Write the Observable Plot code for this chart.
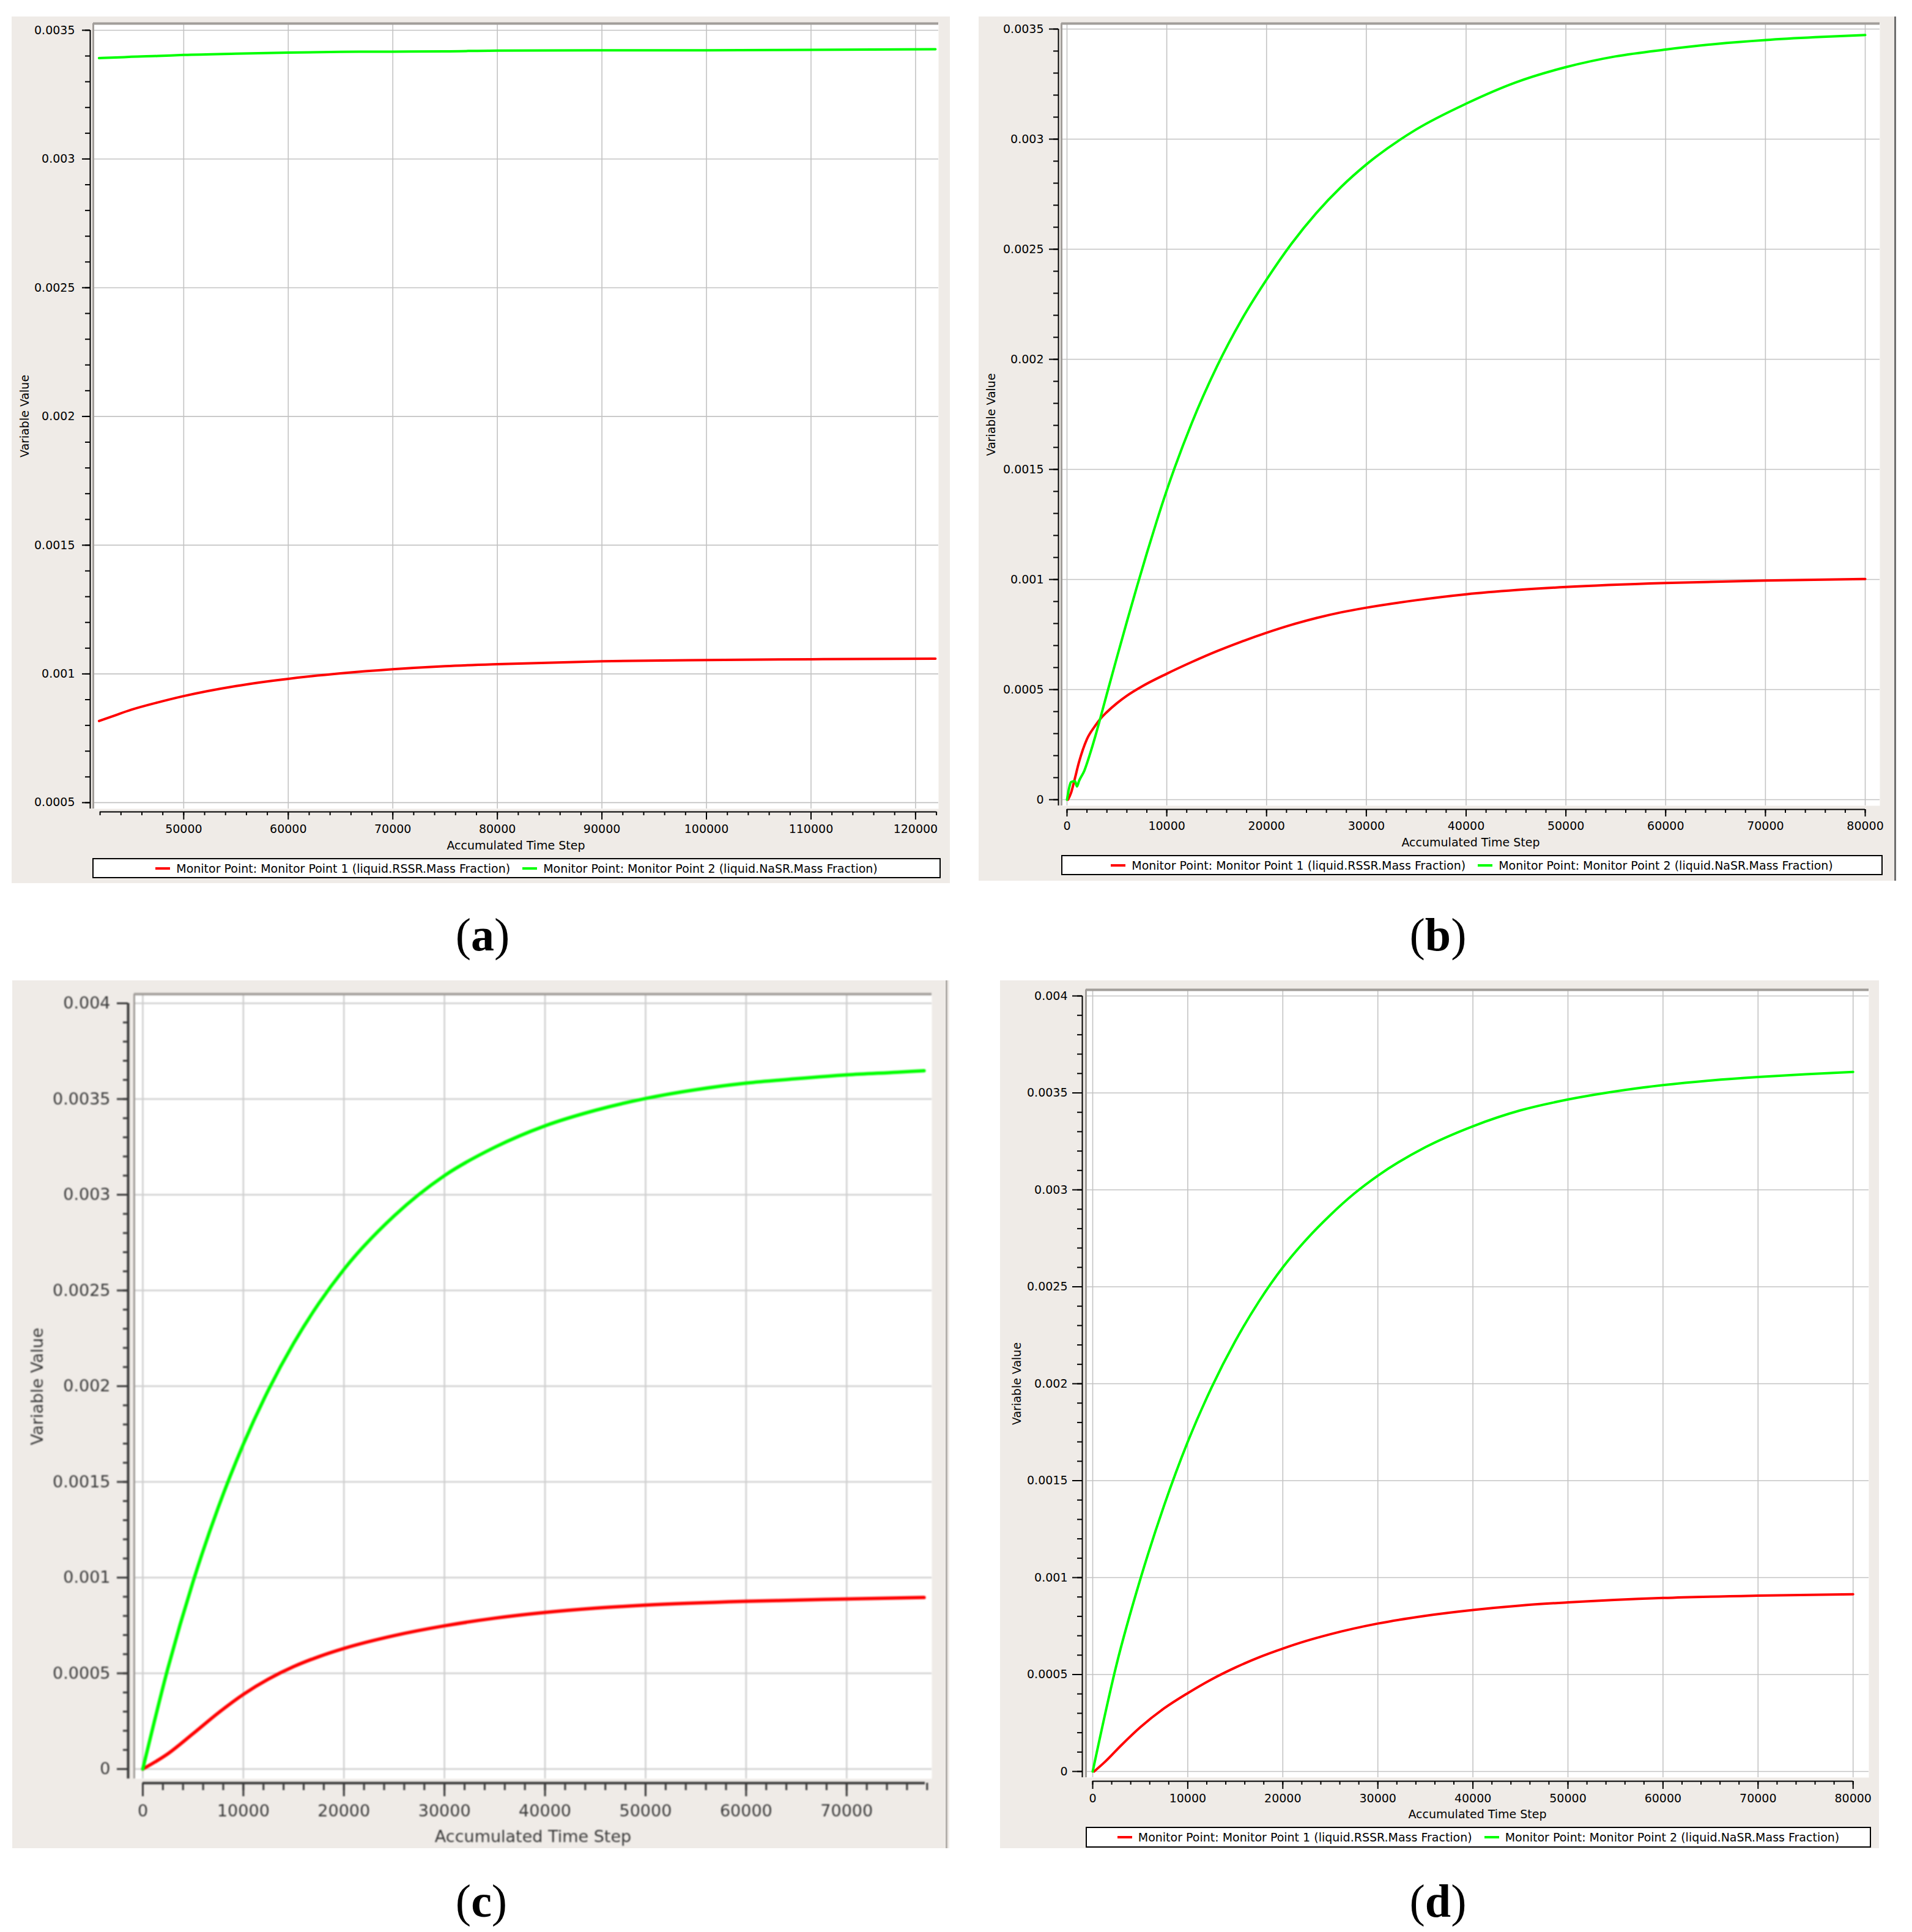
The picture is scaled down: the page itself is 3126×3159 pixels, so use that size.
<!DOCTYPE html>
<html><head><meta charset="utf-8">
<script src="https://cdn.jsdelivr.net/npm/d3@7"></script>
<script src="https://cdn.jsdelivr.net/npm/@observablehq/plot@0.6"></script>
<style>
body{margin:0;background:#fff;}
#page{position:relative;width:3126px;height:3159px;background:#fff;overflow:hidden;font-family:"DejaVu Sans",sans-serif;}
.bg{position:absolute;background:#efebe7;}
.wrap{position:absolute;}
.legend{position:absolute;border:2px solid #000;background:#fff;box-sizing:border-box;display:flex;align-items:center;justify-content:center;font-size:19px;font-family:"DejaVu Sans",sans-serif;color:#000;white-space:nowrap;}
.sw{display:inline-block;width:24px;height:4px;margin-right:10px;}
.item{display:flex;align-items:center;margin:0 10px;}
.tag{position:absolute;font-family:"Liberation Serif",serif;font-size:76px;transform:translateX(-50%);line-height:normal;color:#000;}
.vline{position:absolute;}
</style></head>
<body><div id="page"></div>
<script>
// ---------- DATA ----------
const seriesNames = ["Monitor Point: Monitor Point 1 (liquid.RSSR.Mass Fraction)", "Monitor Point: Monitor Point 2 (liquid.NaSR.Mass Fraction)"];
const panelTags = ["a", "b", "c", "d"];
const xTitle = "Accumulated Time Step";
const yTitle = "Variable Value";

// (a)
const aSteps = [41900, 43500, 45000, 47500, 50000, 55000, 60000, 65000, 70000, 75000, 80000, 90000, 100000, 110000, 121900];
const aRSSR  = [0.000817, 0.00084, 0.000861, 0.000889, 0.000914, 0.000953, 0.000981, 0.001002, 0.001018, 0.00103, 0.001038, 0.001049, 0.001054, 0.001057, 0.001059];
const aNaSR  = [0.003392, 0.003394, 0.003397, 0.0034, 0.003404, 0.003409, 0.003413, 0.003416, 0.003417, 0.003418, 0.003421, 0.003422, 0.003422, 0.003424, 0.003426];
const aXTicks = [50000, 60000, 70000, 80000, 90000, 100000, 110000, 120000];
const aYTicks = [0.0005, 0.001, 0.0015, 0.002, 0.0025, 0.003, 0.0035];

// (b)
const bStepsRSSR = [100, 400, 700, 1200, 2000, 2850, 3400, 4000, 5000, 6000, 7500, 10000, 12500, 15000, 17500, 20000, 22500, 25000, 27500, 30000, 35000, 40000, 45000, 50000, 60000, 70000, 80000];
const bRSSR      = [0, 0.00003, 0.00008, 0.00017, 0.000275, 0.000337, 0.00037, 0.000398, 0.000438, 0.000472, 0.000514, 0.000572, 0.000625, 0.000674, 0.000718, 0.000758, 0.000794, 0.000825, 0.000851, 0.000872, 0.000906, 0.000933, 0.000952, 0.000966, 0.000984, 0.000995, 0.001002];
const bStepsNaSR = [0, 250, 400, 800, 1000, 1200, 1750, 2300, 2850, 3340, 4000, 5000, 6000, 7000, 8000, 9000, 10000, 12500, 15000, 17500, 20000, 22500, 25000, 27500, 30000, 35000, 40000, 45000, 50000, 55000, 60000, 65000, 70000, 75000, 80000];
const bNaSR      = [0, 0.00006, 0.00008, 0.000084, 0.00006, 0.000084, 0.000133, 0.000207, 0.00029, 0.00037, 0.000481, 0.000646, 0.000808, 0.000966, 0.001119, 0.001266, 0.001405, 0.00171, 0.001965, 0.00218, 0.002362, 0.002525, 0.002665, 0.002784, 0.002885, 0.003044, 0.003161, 0.003258, 0.003327, 0.003376, 0.003407, 0.003432, 0.00345, 0.003463, 0.003473];
const bXTicks = [0, 10000, 20000, 30000, 40000, 50000, 60000, 70000, 80000];
const bYTicks = [0, 0.0005, 0.001, 0.0015, 0.002, 0.0025, 0.003, 0.0035];

// (c)
const cStepsRSSR = [0, 2500, 5000, 7500, 10000, 12500, 15000, 17500, 20000, 25000, 30000, 35000, 40000, 45000, 50000, 60000, 70000, 77700];
const cRSSR      = [0, 0.00008, 0.000185, 0.000293, 0.00039, 0.00047, 0.000535, 0.000587, 0.00063, 0.000697, 0.000748, 0.000788, 0.000818, 0.00084, 0.000856, 0.000876, 0.000888, 0.000896];
const cStepsNaSR = [0, 2500, 5000, 7500, 10000, 12500, 15000, 17500, 20000, 25000, 30000, 35000, 40000, 45000, 50000, 55000, 60000, 65000, 70000, 75000, 77700];
const cNaSR      = [0, 0.000527, 0.000979, 0.001366, 0.001697, 0.001981, 0.002224, 0.002432, 0.00261, 0.00289, 0.0031, 0.003248, 0.00336, 0.003441, 0.003503, 0.003549, 0.003583, 0.003606, 0.003626, 0.00364, 0.003648];
const cXTicks = [0, 10000, 20000, 30000, 40000, 50000, 60000, 70000];
const cYTicks = [0, 0.0005, 0.001, 0.0015, 0.002, 0.0025, 0.003, 0.0035, 0.004];

// (d)
const dStepsRSSR = [150, 1300, 3000, 5000, 7500, 10000, 12500, 15000, 17500, 20000, 22500, 25000, 30000, 35000, 40000, 45000, 50000, 60000, 70000, 80000];
const dRSSR      = [0, 0.00005, 0.000135, 0.000228, 0.000325, 0.000404, 0.000475, 0.000536, 0.000589, 0.000634, 0.000674, 0.000708, 0.000763, 0.000803, 0.000833, 0.000856, 0.000872, 0.000895, 0.000907, 0.000914];
const dStepsNaSR = [0, 2500, 5000, 7500, 10000, 12500, 15000, 17500, 20000, 22500, 25000, 27500, 30000, 35000, 40000, 45000, 50000, 55000, 60000, 65000, 70000, 75000, 80000];
const dNaSR      = [0, 0.00055, 0.00099, 0.00137, 0.0017, 0.00198, 0.00222, 0.002425, 0.0026, 0.002745, 0.00287, 0.00298, 0.003073, 0.00322, 0.003328, 0.00341, 0.003466, 0.003508, 0.00354, 0.003564, 0.003582, 0.003596, 0.003608];
const dXTicks = [0, 10000, 20000, 30000, 40000, 50000, 60000, 70000, 80000];
const dYTicks = [0, 0.0005, 0.001, 0.0015, 0.002, 0.0025, 0.003, 0.0035, 0.004];

// ---------- STYLE ----------
const seriesColors = ["#ff0000", "#00ff00"];
const page = document.getElementById("page");

function rows(steps, vals) { return steps.map((s, i) => ({step: s, value: vals[i]})); }
function minor(lo, hi, step) { const n = Math.round((hi - lo) / step); return d3.range(n + 1).map(i => lo + i * step); }
const fmt = d => String(+d.toPrecision(6));

function addDiv(cls, css, html) {
  const el = document.createElement("div");
  el.className = cls;
  Object.assign(el.style, css);
  if (html != null) el.innerHTML = html;
  page.appendChild(el);
  return el;
}

function panel(c) {
  addDiv("bg", {left: c.bg[0] + "px", top: c.bg[1] + "px", width: c.bg[2] + "px", height: c.bg[3] + "px"});
  const [y0, y1] = c.yDomain;
  const tickColor = c.tickColor;
  const chart = Plot.plot({
    width: c.width, height: c.height,
    marginLeft: c.ml, marginTop: c.mt, marginRight: c.mr, marginBottom: c.mb,
    style: {background: "transparent", fontFamily: "DejaVu Sans, sans-serif", overflow: "visible"},
    x: {domain: c.xDomain},
    y: {domain: c.yDomain},
    marks: [
      Plot.frame({fill: "white", stroke: null}),
      Plot.gridX(c.xTicks, {stroke: c.gridColor, strokeOpacity: 1, strokeWidth: c.gridW}),
      Plot.gridY(c.yTicks, {stroke: c.gridColor, strokeOpacity: 1, strokeWidth: c.gridW}),
      Plot.line(rows(c.s1x, c.s1y), {x: "step", y: "value", stroke: seriesColors[0], strokeWidth: c.lineW, curve: "monotone-x", clip: true}),
      Plot.line(rows(c.s2x, c.s2y), {x: "step", y: "value", stroke: seriesColors[1], strokeWidth: c.lineW, curve: "monotone-x", clip: true}),
      // frame bevel (top / left)
      Plot.ruleY([y1], {stroke: c.bevel, strokeWidth: c.bevelW}),
      Plot.ruleX([c.xDomain[0]], {stroke: c.bevel, strokeWidth: c.bevelW - 1}),
      // y axis
      Plot.ruleX([c.xDomain[0]], {y1: y0, y2: c.yTicks[c.yTicks.length - 1], dx: -c.ydx, stroke: tickColor, strokeWidth: c.axisW}),
      Plot.axisY({ticks: minor(c.yTicks[0], c.yTicks[c.yTicks.length - 1], 0.0001), tickSize: c.yMinorLen, tickFormat: () => "", dx: -c.ydx, label: null, stroke: tickColor, strokeWidth: c.tickW}),
      Plot.axisY({ticks: c.yTicks, tickSize: c.yMajorLen, tickPadding: c.yPad, tickFormat: fmt, dx: -c.ydx, label: null, stroke: tickColor, fill: c.textColor, strokeWidth: c.tickW, fontSize: c.fontSize}),
      // x axis
      Plot.ruleY([y0], {x1: c.xAxis[0], x2: c.xAxis[1], dy: c.xdy, stroke: tickColor, strokeWidth: c.axisW}),
      Plot.axisX({ticks: minor(c.xAxis[0], c.xAxis[1], 2000), tickSize: c.xMinorLen, tickFormat: () => "", dy: c.xdy, label: null, stroke: tickColor, strokeWidth: c.tickW}),
      Plot.axisX({ticks: c.xTicks, tickSize: c.xMajorLen, tickPadding: c.xPad, tickFormat: fmt, dy: c.xdy, label: null, stroke: tickColor, fill: c.textColor, strokeWidth: c.tickW, fontSize: c.fontSize}),
      // axis titles
      Plot.text([yTitle], {text: d => d, frameAnchor: "left", textAnchor: "middle", lineAnchor: "middle", dx: c.yTitleDx, rotate: -90, fontSize: c.fontSize, fill: c.textColor}),
      Plot.text([xTitle], {text: d => d, frameAnchor: "bottom", textAnchor: "middle", lineAnchor: "middle", dy: c.xTitleDy, fontSize: c.fontSize, fill: c.textColor})
    ]
  });
  const w = addDiv("wrap", {left: c.left + "px", top: c.top + "px"});
  if (c.blur) w.style.filter = `blur(${c.blur}px)`;
  w.appendChild(chart);
  if (c.legend) {
    const [lx, ly, lw, lh] = c.legend;
    addDiv("legend", {left: lx + "px", top: ly + "px", width: lw + "px", height: lh + "px"},
      seriesNames.map((n, i) => `<span class="item"><span class="sw" style="background:${seriesColors[i]}"></span>${n}</span>`).join(""));
  }
  const [tx, ty] = c.tag;
  addDiv("tag", {left: tx + "px", top: ty + "px"}, `(<b>${c.tagText}</b>)`);
}

const base = {gridColor: "#c3c3c3", gridW: 1.6, lineW: 4, bevel: "#a29e9a", bevelW: 4, axisW: 2, tickW: 2,
  tickColor: "#000", textColor: "#000", fontSize: 19, yMinorLen: 8, xMinorLen: 6};

panel({...base, bg: [19, 27, 1534, 1417], left: 19, top: 27, width: 1534, height: 1370, ml: 133, mt: 11, mr: 19, mb: 75,
  xDomain: [41350, 122200], yDomain: [0.000476, 0.003526], xTicks: aXTicks, yTicks: aYTicks, xAxis: [42000, 122000],
  s1x: aSteps, s1y: aRSSR, s2x: aSteps, s2y: aNaSR,
  ydx: 5, xdy: 5, yMajorLen: 13, xMajorLen: 13, yPad: 12, xPad: 8, yTitleDx: -112, xTitleDy: 60,
  legend: [151, 1403, 1387, 33], tag: [789, 1485], tagText: panelTags[0]});

panel({...base, bg: [1600, 27, 1500, 1413], left: 1600, top: 27, width: 1498, height: 1365, ml: 135, mt: 11, mr: 25, mb: 75,
  xDomain: [-550, 81470], yDomain: [-0.0000277, 0.003525], xTicks: bXTicks, yTicks: bYTicks, xAxis: [0, 80000],
  s1x: bStepsRSSR, s1y: bRSSR, s2x: bStepsNaSR, s2y: bNaSR,
  ydx: 5, xdy: 6, yMajorLen: 15, xMajorLen: 12, yPad: 9, xPad: 8, yTitleDx: -115, xTitleDy: 60,
  legend: [1735, 1398, 1343, 33], tag: [2351, 1485], tagText: panelTags[1]});

panel({...base, bg: [20, 1603, 1532, 1419], left: 20, top: 1603, width: 1532, height: 1419, ml: 199, mt: 22, mr: 29, mb: 114,
  xDomain: [-850, 78470], yDomain: [-0.000051, 0.004048], xTicks: cXTicks, yTicks: cYTicks, xAxis: [0, 77800],
  s1x: cStepsRSSR, s1y: cRSSR, s2x: cStepsNaSR, s2y: cNaSR,
  gridColor: "#cfcfcf", gridW: 2.5, lineW: 5.5, axisW: 4, tickW: 3, tickColor: "#3a3a3a", textColor: "#3a3a3a", fontSize: 27,
  ydx: 10, xdy: 7, yMajorLen: 18, xMajorLen: 22, yMinorLen: 8, xMinorLen: 12, yPad: 11, xPad: 13, yTitleDx: -158, xTitleDy: 95,
  blur: 0.9, tag: [787, 3065], tagText: panelTags[2]});

panel({...base, bg: [1635, 1603, 1437, 1419], left: 1635, top: 1603, width: 1437, height: 1380, ml: 140, mt: 15, mr: 17, mb: 77,
  xDomain: [-708, 81660], yDomain: [-0.0000315, 0.0040315], xTicks: dXTicks, yTicks: dYTicks, xAxis: [0, 80000],
  s1x: dStepsRSSR, s1y: dRSSR, s2x: dStepsNaSR, s2y: dNaSR,
  ydx: 6, xdy: 6, yMajorLen: 16, xMajorLen: 13, yPad: 8, xPad: 8, yTitleDx: -113, xTitleDy: 60,
  legend: [1775, 2987, 1284, 34], tag: [2351, 3065], tagText: panelTags[3]});

// window-edge lines
addDiv("vline", {left: "3097px", top: "27px", width: "3px", height: "1413px", background: "#6e6e6e"});
addDiv("vline", {left: "1546px", top: "1603px", width: "3px", height: "1419px", background: "#b5b1ad"});
</script>
</body></html>
